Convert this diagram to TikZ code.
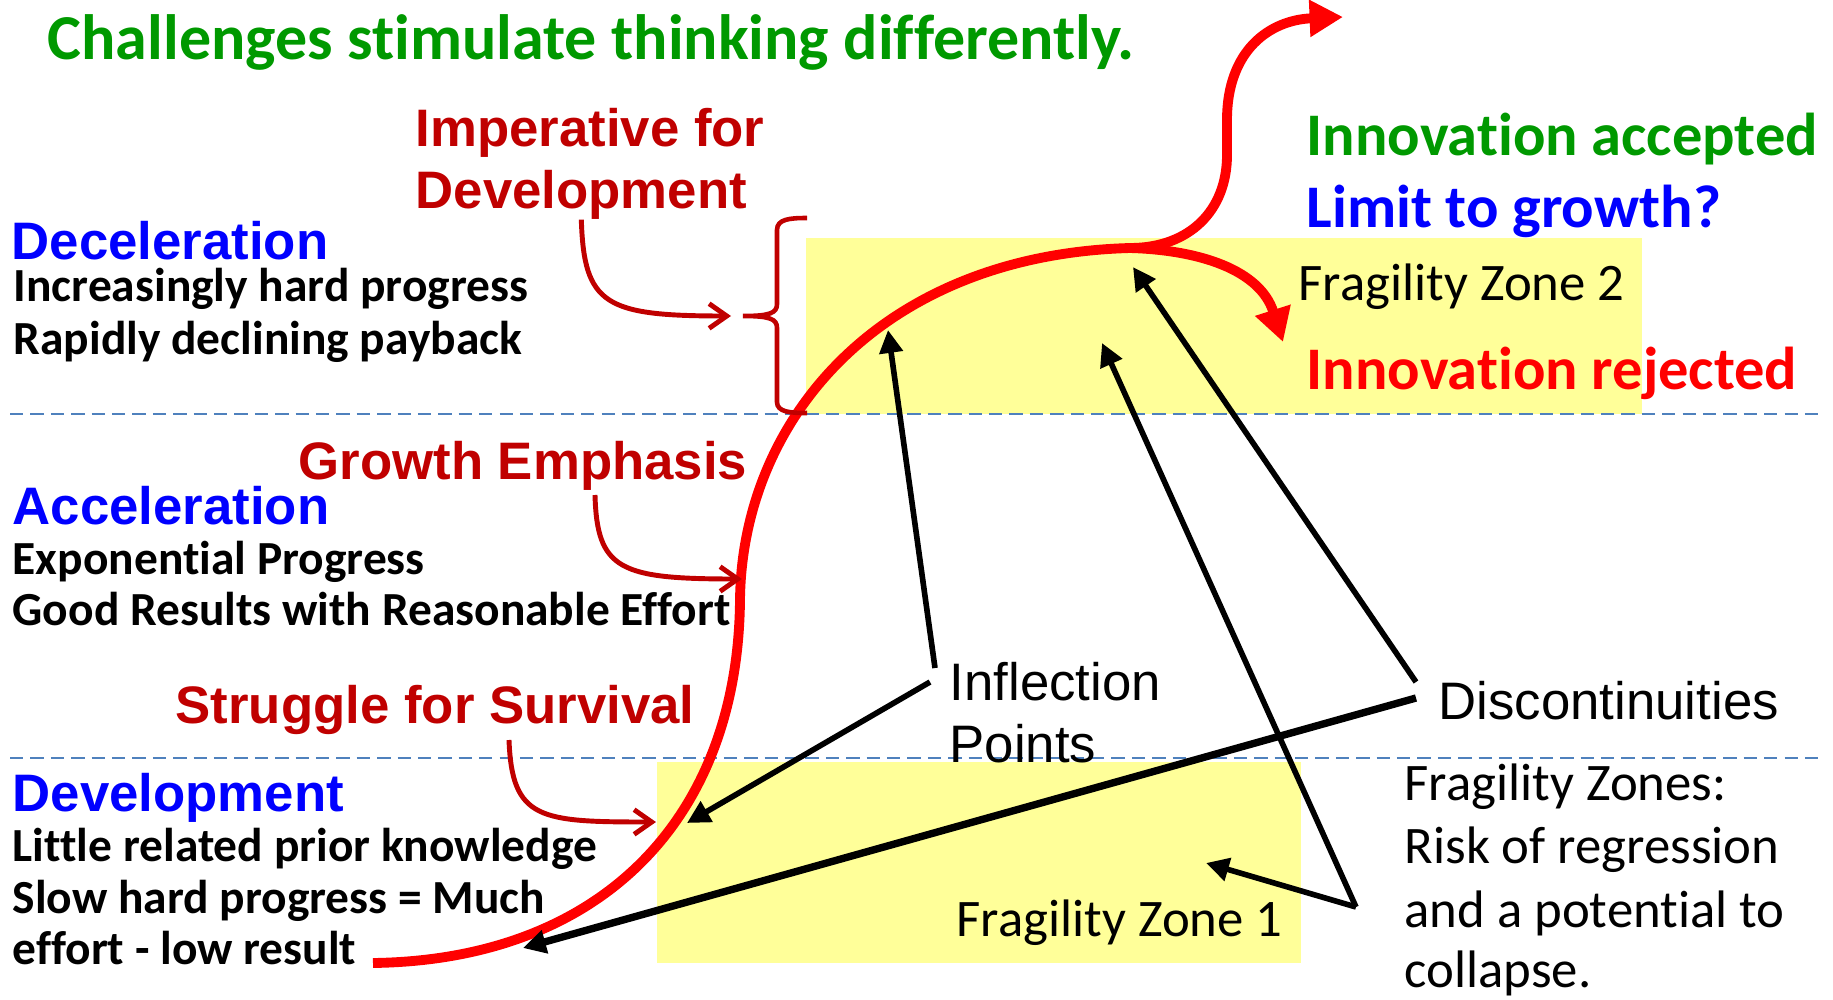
\documentclass[tikz,border=0pt]{standalone}
\usepackage{fontspec}
\setmainfont{Carlito}[Ligatures=NoCommon]
\newfontfamily\arialfont{Liberation Sans}
\usepackage[HTML]{xcolor}
\usepackage{tikz}
\usetikzlibrary{positioning, arrows.meta}

\definecolor{phasegreen}{HTML}{009900}
\definecolor{phaseblue}{HTML}{0000FF}
\definecolor{hintred}{HTML}{C00000}
\definecolor{curvered}{HTML}{FF0000}
\definecolor{zoneyellow}{HTML}{FFFF99}
\definecolor{dashblue}{HTML}{4F81BD}

\tikzset{
  txt/.style={anchor=base west, inner sep=0pt},
  headline/.style={txt, font=\bfseries\fontsize{18.2}{22}\selectfont},
  outcome/.style={txt, font=\bfseries\fontsize{17.2}{21}\selectfont},
  phase/.style={txt, font=\arialfont\bfseries\fontsize{15}{18}\selectfont},
  detail/.style={txt, font=\bfseries\fontsize{13.5}{16}\selectfont},
  zonetext/.style={txt, font=\fontsize{15}{18}\selectfont},
  notetext/.style={txt, font=\arialfont\fontsize{15}{18}\selectfont},
  boundary/.style={dashblue, line width=0.6pt, dash pattern=on 3.8pt off 2pt},
  scurve/.style={curvered, line width=2.8pt},
  redtip/.style={-{Triangle[length=9.5pt,width=10pt]}},
  pointer/.style={line width=1.6pt, -{Triangle[length=6.5pt,width=6.5pt]}},
  hint/.style={hintred, line width=1.4pt, -{Straight Barb[length=5pt,width=7pt]}},
}

\begin{document}
\begin{tikzpicture}[x=0.01cm, y=-0.01cm]
\useasboundingbox (0,0) rectangle (1833,1000);

% fragility zones and phase boundaries
\fill[zoneyellow] (806,238) rectangle (1642,414);
\fill[zoneyellow] (657,762) rectangle (1301,963);
\draw[boundary] (10,414) -- (1818,414);
\draw[boundary] (10,758) -- (1818,758);

% texts
\node[headline, phasegreen] (challenge) at (47,59) {Challenges stimulate thinking differently.};
\node[phase, hintred] (imperative) at (415,146) {Imperative for};
\node[phase, hintred] (impdev) at (415,208) {Development};
\node[phase, phaseblue] (decel) at (11,259) {Deceleration};
\node[detail] (decelA) at (13,301) {Increasingly hard progress};
\node[detail] (decelB) at (13,354) {Rapidly declining payback};
\node[phase, hintred] (growth) at (298,479) {Growth Emphasis};
\node[phase, phaseblue] (accel) at (12,524) {Acceleration};
\node[detail] (accelA) at (12,574) {Exponential Progress};
\node[detail] (accelB) at (12,625) {Good Results with Reasonable Effort};
\node[phase, hintred] (struggle) at (175,723) {Struggle for Survival};
\node[phase, phaseblue] (devel) at (12,811) {Development};
\node[detail] (develA) at (12,861) {Little related prior knowledge};
\node[detail] (develB) at (12,913) {Slow hard progress = Much};
\node[detail] (develC) at (12,964) {effort - low result};

\node[outcome, phasegreen] (accepted) at (1306,155) {Innovation accepted};
\node[outcome, phaseblue] (limit) at (1306,227) {Limit to growth?};
\node[zonetext] (zone2) at (1298,300) {Fragility Zone 2};
\node[outcome, curvered] (rejected) at (1306,389) {Innovation rejected};

\node[notetext] (inflection) at (949,700) {Inflection};
\node[notetext] (points) at (949,762) {Points};
\node[notetext] (discont) at (1438,719) {Discontinuities};
\node[zonetext] (zone1) at (956,936) {Fragility Zone 1};
\node[zonetext] (zonesA) at (1404,800) {Fragility Zones:};
\node[zonetext] (zonesB) at (1404,863) {Risk of regression};
\node[zonetext] (zonesC) at (1404,927) {and a potential to};
\node[zonetext] (zonesD) at (1404,987) {collapse.};

% points on the curve
\coordinate (start) at (373,963);
\coordinate (steep) at (740,600);
\coordinate (peak) at (1130,248);
\coordinate (upend) at (1343,17);
\coordinate (downend) at (1283,342);

% s-curve and its two branches
\draw[scurve] (start) .. controls (600,960) and (738,820) .. (steep)
  .. controls (742,420) and (880,255) .. (peak);
\draw[scurve, redtip] (peak) .. controls (1190,248) and (1227,210) .. (1227,155)
  -- (1227,120) .. controls (1227,50) and (1270,20) .. (upend);
\draw[scurve, redtip] (peak) .. controls (1200,250) and (1260,270) .. (downend);

% brace
\coordinate (bracetip) at (743,316);
\draw[hintred, line width=1.3pt] (807,218) .. controls (790,218) and (777,219) .. (777,230)
  -- (777,304) .. controls (777,313) and (770,316) .. (bracetip)
  .. controls (770,316) and (777,319) .. (777,328)
  -- (777,402) .. controls (777,412) and (790,413) .. (807,413);

% dark red hints
\coordinate (growthfrom) at (595,495);
\coordinate (strugglefrom) at (509,740);
\coordinate (imptip) at (731,316);
\coordinate (growthtip) at (742,579);
\coordinate (struggletip) at (656,822);
\draw[hint] (impdev.south) .. controls (584,305) and (605,316) .. (imptip);
\draw[hint] (growthfrom) .. controls (597,570) and (620,579) .. (growthtip);
\draw[hint] (strugglefrom) .. controls (512,820) and (540,822) .. (struggletip);

% black pointers
\coordinate (inflA) at (935,668);
\coordinate (inflB) at (930,682);
\coordinate (discA) at (1416,682);
\coordinate (discB) at (1416,698);
\coordinate (fork) at (1356,907);
\draw[pointer] (inflA) -- (888,330);
\draw[pointer] (inflB) -- (687,823);
\draw[pointer] (discA) -- (1133,267);
\draw[pointer, line width=2.1pt] (discB) -- (523,948);
\draw[pointer] (fork) -- (1102,343);
\draw[pointer] (fork) -- (1206,863);

\end{tikzpicture}
\end{document}
